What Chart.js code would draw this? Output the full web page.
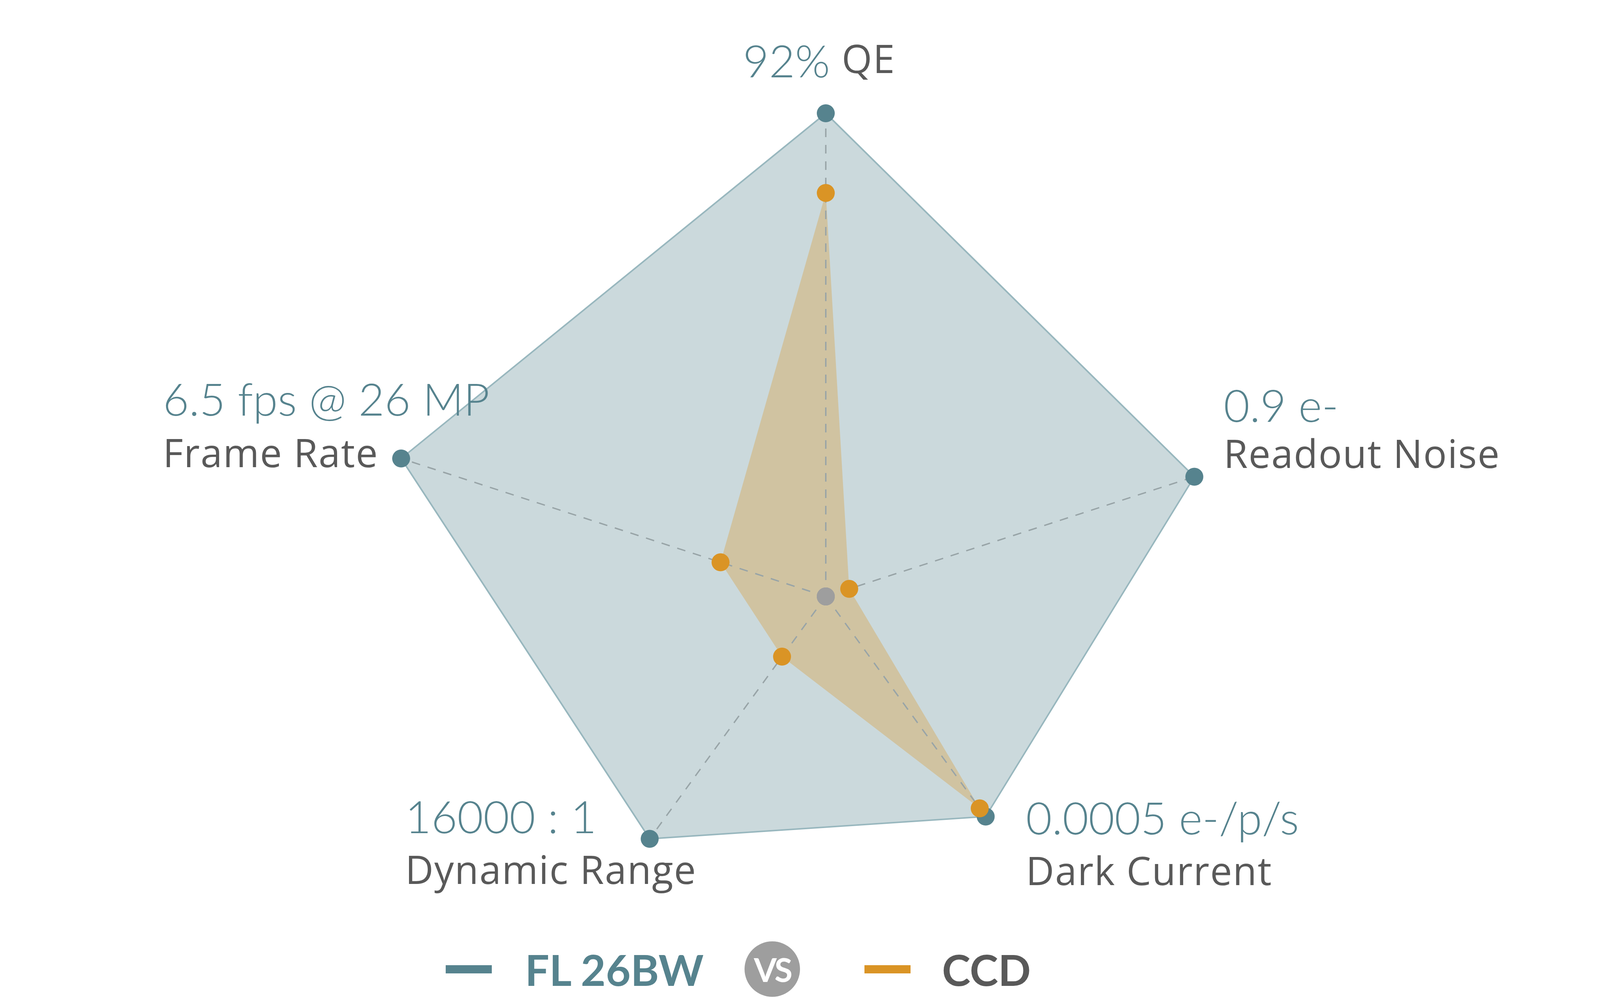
<!DOCTYPE html>
<html>
<head>
<meta charset="utf-8">
<script src="https://cdn.jsdelivr.net/npm/chart.js@4.4.1/dist/chart.umd.min.js"></script>
<style>
  html, body { margin: 0; padding: 0; background: #fff; overflow: hidden; }
  #wrap { position: relative; width: 4259px; height: 2555px; overflow: hidden; }
  #sensorRadar { position: absolute; left: 0; top: 0; }
  #legend {
    position: absolute; left: 1141px; top: 2410px; height: 142px;
    display: flex; align-items: center;
    font-family: Lato, "Open Sans", sans-serif; font-weight: 700; font-size: 110px;
  }
  .dash { width: 118px; height: 21px; }
  .vs {
    width: 142px; height: 142px; border-radius: 50%; background: #9e9e9e; color: #fff;
    font-size: 84px; display: flex; align-items: center; justify-content: center; letter-spacing: -4px;
  }
</style>
</head>
<body>
<div id="wrap">
  <!-- canvas runs past the bottom of the page so the radar hub can sit low -->
  <canvas id="sensorRadar" width="4259" height="2800"></canvas>
  <div id="legend"></div>
</div>
<script>
// sensor comparison radar

const axisNames = ["QE", "Readout Noise", "Dark Current", "Dynamic Range", "Frame Rate"];
const flSpecs = ["92%", "0.9 e-", "0.0005 e-/p/s", "16000 : 1", "6.5 fps @ 26 MP"];
const seriesNames = ["FL 26BW", "CCD"];

// relative scores (FL 26BW QE = 100)
const flScore = [100, 80.2, 56.3, 62.0, 92.4];
const ccdScore = [83.5, 5.1, 54.2, 15.4, 22.9];
const hubValues = [0, 0, 0, 0, 0];

const TEAL = "#56838e";
const ORANGE = "#da9425";
const GREY_TEXT = "#595959";

// label block next to each FL point: [dx, value baseline dy, name baseline dy, align]
const labelPlace = [
  [-17, -92, -103, "center"],
  [75, -140, -22, "left"],
  [103, 46, 176, "left"],
  [-626, -14, 116, "left"],
  [-610, -110, 22, "left"],
];

// dashed spokes from the hub out to the FL points, drawn over the fills
const spokePlugin = {
  id: "spokes",
  beforeDatasetsDraw(chart) {
    const r = chart.scales.r;
    const ctx = chart.ctx;
    ctx.save();
    ctx.strokeStyle = "#98a4a7";
    ctx.lineWidth = 3.5;
    ctx.setLineDash([22, 20]);
    flScore.forEach((v, i) => {
      const p = r.getPointPosition(i, r.getDistanceFromCenterForValue(v));
      ctx.beginPath();
      ctx.moveTo(r.xCenter, r.yCenter);
      ctx.lineTo(p.x, p.y);
      ctx.stroke();
    });
    ctx.restore();
  },
};

// two-tone point labels (spec in teal, axis name in grey)
const specLabelPlugin = {
  id: "specLabels",
  afterDatasetsDraw(chart) {
    const r = chart.scales.r;
    const ctx = chart.ctx;
    const setValueFont = () => {
      ctx.font = '300 115px Lato, "Open Sans", sans-serif';
      ctx.letterSpacing = "0px";
      ctx.fillStyle = TEAL;
    };
    const setNameFont = () => {
      ctx.font = '400 100px "Open Sans", Lato, sans-serif';
      ctx.letterSpacing = "2px";
      ctx.fillStyle = GREY_TEXT;
    };
    ctx.save();
    ctx.textBaseline = "alphabetic";
    ctx.textAlign = "left";
    axisNames.forEach((name, i) => {
      const p = r.getPointPosition(i, r.getDistanceFromCenterForValue(flScore[i]));
      const [dx, vy, ny, align] = labelPlace[i];
      if (align === "center") {
        setValueFont();
        const wv = ctx.measureText(flSpecs[i]).width;
        setNameFont();
        const wn = ctx.measureText(name).width;
        const gap = 30;
        const x0 = p.x + dx - (wv + gap + wn) / 2;
        setValueFont();
        ctx.fillText(flSpecs[i], x0, p.y + vy);
        setNameFont();
        ctx.fillText(name, x0 + wv + gap, p.y + ny);
      } else {
        setValueFont();
        ctx.fillText(flSpecs[i], p.x + dx, p.y + vy);
        setNameFont();
        ctx.fillText(name, p.x + dx, p.y + ny);
      }
    });
    ctx.restore();
  },
};

function buildLegend() {
  const legend = document.getElementById("legend");
  legend.innerHTML = `
    <div class="dash" style="background:${TEAL}"></div>
    <span style="color:${TEAL};margin-left:85px">${seriesNames[0]}</span>
    <div class="vs" style="margin-left:105px">VS</div>
    <div class="dash" style="background:${ORANGE};margin-left:165px"></div>
    <span style="color:${GREY_TEXT};margin-left:80px">${seriesNames[1]}</span>`;
}

const radarCtx = document.getElementById("sensorRadar");
new Chart(radarCtx, {
  type: "radar",
  data: {
    labels: axisNames,
    datasets: [
      {
        label: "hub",
        data: hubValues,
        showLine: false,
        fill: false,
        pointRadius: 23,
        pointBorderWidth: 0,
        pointBackgroundColor: "#9e9e9e",
        clip: false,
      },
      {
        label: seriesNames[1],
        data: ccdScore,
        fill: true,
        backgroundColor: "rgba(218, 148, 37, 0.32)",
        borderWidth: 0,
        pointRadius: 23,
        pointBorderWidth: 0,
        pointBackgroundColor: ORANGE,
        clip: false,
      },
      {
        label: seriesNames[0],
        data: flScore,
        fill: true,
        backgroundColor: "rgba(86, 131, 142, 0.31)",
        borderColor: "#98b7be",
        borderWidth: 4,
        pointRadius: 23,
        pointBorderWidth: 0,
        pointBackgroundColor: TEAL,
        clip: false,
      },
    ],
  },
  options: {
    responsive: false,
    devicePixelRatio: 1,
    animation: false,
    events: [],
    // hub at (2114, 1527), full radius 1237 px
    layout: { padding: { top: 290, bottom: 36, left: 0, right: 30 } },
    elements: { line: { tension: 0 } },
    scales: {
      r: {
        min: 0,
        max: 100,
        startAngle: 0,
        grid: { display: false },
        angleLines: { display: false },
        ticks: { display: false },
        pointLabels: { display: false },
      },
    },
    plugins: {
      legend: { display: false },
      tooltip: { enabled: false },
      filler: { drawTime: "beforeDatasetsDraw" },
    },
  },
  plugins: [spokePlugin, specLabelPlugin],
});

buildLegend();
</script>
</body>
</html>
